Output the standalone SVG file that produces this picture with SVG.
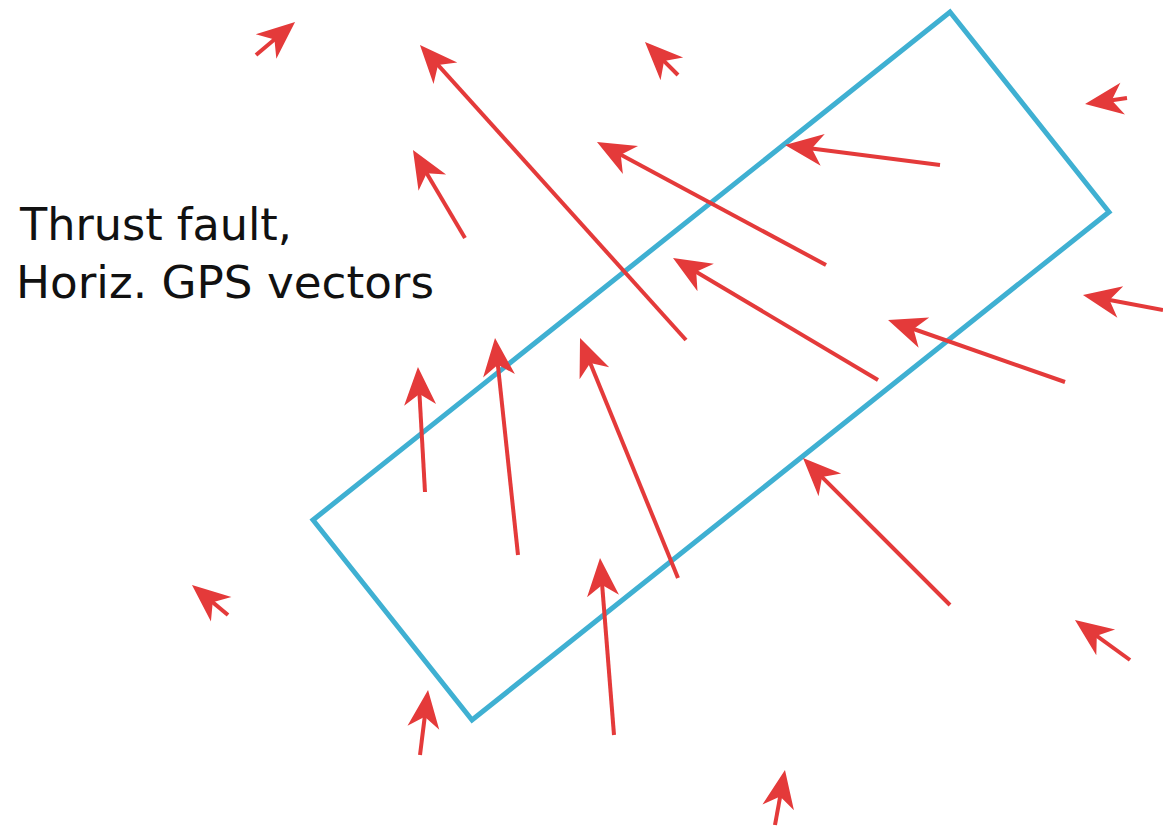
<svg xmlns="http://www.w3.org/2000/svg" width="1163" height="827" viewBox="0 0 1163 827">
<defs>
<style>
.v{stroke:#e43a3a;stroke-width:4;fill:none;marker-end:url(#ah)}
.fault{stroke:#3fb0d2;stroke-width:5;fill:none;stroke-linejoin:miter}
.lbl{font-family:"Comic Sans MS","DejaVu Sans",sans-serif;font-size:44px;fill:#111}
</style>
<marker id="ah" markerUnits="userSpaceOnUse" markerWidth="60" markerHeight="60" viewBox="-30 -30 60 60" refX="0" refY="0" orient="auto" overflow="visible">
<path d="M15,0 L-23,-16 L-12,0 L-23,16 Z" fill="#e43a3a"/>
</marker>
</defs>
<rect width="1163" height="827" fill="#fff"/>
<g id="fault-block">
<polygon class="fault" points="950,12 1109,212 472,720 313,520"/>
</g>
<g id="label">
<text class="lbl" x="20" y="240" textLength="272" lengthAdjust="spacingAndGlyphs">Thrust fault,</text>
<text class="lbl" x="16" y="298" textLength="418" lengthAdjust="spacingAndGlyphs">Horiz. GPS vectors</text>
</g>
<g id="vectors">
<line class="v" x1="256" y1="55" x2="283.6" y2="31.7"/>
<line class="v" x1="686" y1="340" x2="430" y2="56.1"/>
<line class="v" x1="678" y1="75" x2="655.6" y2="52.6"/>
<line class="v" x1="1127" y1="98" x2="1099.9" y2="101.9"/>
<line class="v" x1="940" y1="165" x2="799.9" y2="146.9"/>
<line class="v" x1="465" y1="238" x2="420.6" y2="162.9"/>
<line class="v" x1="826" y1="265" x2="610.2" y2="149.1"/>
<line class="v" x1="878" y1="380" x2="685.9" y2="265.7"/>
<line class="v" x1="1163" y1="310" x2="1097.7" y2="297.8"/>
<line class="v" x1="1065" y1="382" x2="902.2" y2="325"/>
<line class="v" x1="425" y1="492" x2="418.8" y2="382"/>
<line class="v" x1="518" y1="555" x2="496.6" y2="352.9"/>
<line class="v" x1="678" y1="578" x2="585.7" y2="351.9"/>
<line class="v" x1="950" y1="605" x2="813.6" y2="468.6"/>
<line class="v" x1="228" y1="615" x2="203.5" y2="594.6"/>
<line class="v" x1="1130" y1="660" x2="1087.1" y2="628.8"/>
<line class="v" x1="614" y1="735" x2="601.2" y2="573"/>
<line class="v" x1="420" y1="755" x2="426.2" y2="704.9"/>
<line class="v" x1="775" y1="825" x2="782.3" y2="784.8"/>
</g>
</svg>
